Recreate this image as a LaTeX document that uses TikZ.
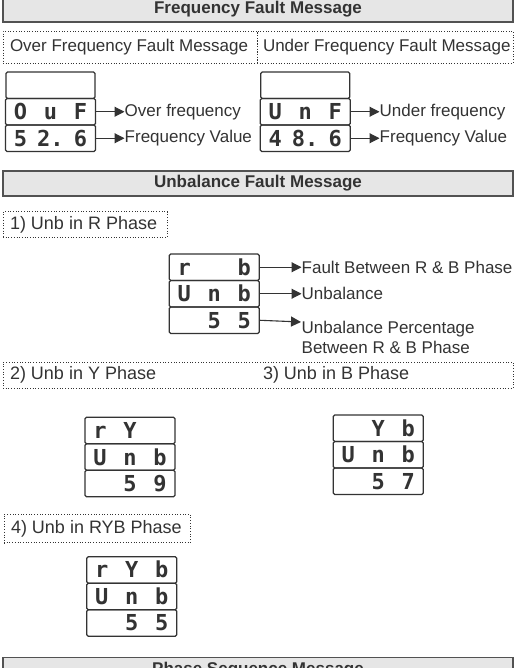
\documentclass[tikz,border=0pt]{standalone}
\usepackage{fontspec}
\setmainfont{Liberation Sans}
\newfontfamily\segfont{DejaVu Sans Mono}
\usetikzlibrary{arrows.meta}
\definecolor{ink}{HTML}{333333}
\definecolor{hdrfill}{HTML}{E6E6E6}
\newcommand\dg[3]{\makebox[30pt]{#1}\makebox[30pt]{#2}\makebox[30pt]{#3}}
\newcommand\lft[2]{\makebox[#1][l]{#2}}
\begin{document}
\begin{tikzpicture}[x=1pt,y=-1pt,
  hdr/.style={draw=ink!85, fill=hdrfill, line width=1.2pt, minimum width=510pt,
    minimum height=25pt, inner sep=0pt, text=ink,
    font=\fontsize{17}{20}\selectfont\bfseries},
  dbox/.style={draw=ink, dotted, line width=0.7pt, inner sep=0pt, outer sep=0pt,
    anchor=north west, text=ink, font=\fontsize{17}{20}\selectfont},
  nbox/.style={dbox, font=\fontsize{18}{21}\selectfont},
  seg/.style={draw=ink, line width=1.2pt, rounded corners=1.5pt, minimum width=89pt,
    minimum height=26.5pt, inner sep=0pt, outer sep=0pt, text=ink,
    font=\segfont\bfseries\fontsize{22}{22}\selectfont, text height=16pt, text depth=0pt},
  arr/.style={draw=ink, line width=1.1pt, -{Triangle[length=10pt,width=10pt]}},
  lbl/.style={text=ink, font=\fontsize{17}{20.5}\selectfont, inner sep=0pt, anchor=west}]
\useasboundingbox (0,0) rectangle (517,668);
\clip (0,0) rectangle (517,668);

% ---------- Frequency fault ----------
\node[hdr, minimum height=26pt] (h1) at (258,9) {Frequency Fault Message};
\node[dbox, minimum width=254pt, minimum height=32pt] (ofb) at (3,31)
  {\lft{240pt}{Over Frequency Fault Message}};
\node[dbox, minimum width=256pt, minimum height=32pt] (ufb) at (257,31)
  {\lft{244pt}{Under Frequency Fault Message}};

% over frequency display
\node[seg, anchor=north west] (o1) at (6,72) {};
\node[seg, anchor=north] (o2) at (o1.south) {\dg{O}{u}{F}};
\node[seg, anchor=north] (o3) at (o2.south) {\dg{5}{2.}{6}};
\node[lbl] (ol2) at (124.5,0 |- o2.east) {Over frequency};
\node[lbl] (ol3) at (124.5,0 |- o3.east) {Frequency Value};
\draw[arr] (o2.east) -- (ol2.west);
\draw[arr] (o3.east) -- (ol3.west);

% under frequency display
\node[seg, anchor=north west] (u1) at (260.7,72) {};
\node[seg, anchor=north] (u2) at (u1.south) {\dg{U}{n}{F}};
\node[seg, anchor=north] (u3) at (u2.south) {\dg{4}{8.}{6}};
\node[lbl] (ul2) at (379.5,0 |- u2.east) {Under frequency};
\node[lbl] (ul3) at (379.5,0 |- u3.east) {Frequency Value};
\draw[arr] (u2.east) -- (ul2.west);
\draw[arr] (u3.east) -- (ul3.west);

% ---------- Unbalance fault ----------
\node[hdr] (h2) at (258,183.5) {Unbalance Fault Message};
\node[nbox, minimum width=164pt, minimum height=25.6pt] (n1) at (3,211.7)
  {\lft{150pt}{1) Unb in R Phase}};

\node[seg, anchor=north west] (r1) at (169.3,254) {\dg{r}{}{b}};
\node[seg, anchor=north] (r2) at (r1.south) {\dg{U}{n}{b}};
\node[seg, anchor=north] (r3) at (r2.south) {\dg{}{5}{5}};
\node[lbl] (rl1) at (301.5,0 |- r1.east) {Fault Between R \& B Phase};
\node[lbl] (rl2) at (301.5,0 |- r2.east) {Unbalance};
\coordinate (t3) at (301,322);
\node[lbl, anchor=north west, align=left] (rl3) at (301.5,320.6)
  {Unbalance Percentage\\Between R \& B Phase};
\draw[arr] (r1.east) -- (rl1.west);
\draw[arr] (r2.east) -- (rl2.west);
\draw[arr] (r3.east) -- (t3);

\node[nbox, minimum width=510pt, minimum height=26pt] (n23) at (3,362)
  {\lft{496pt}{\lft{253pt}{2) Unb in Y Phase}3) Unb in B Phase}};

\node[seg, anchor=north west] (y1) at (85,417.3) {\dg{r}{Y}{}};
\node[seg, anchor=north] (y2) at (y1.south) {\dg{U}{n}{b}};
\node[seg, anchor=north] (y3) at (y2.south) {\dg{}{5}{9}};

\node[seg, anchor=north west] (b1) at (333.3,415) {\dg{}{Y}{b}};
\node[seg, anchor=north] (b2) at (b1.south) {\dg{U}{n}{b}};
\node[seg, anchor=north] (b3) at (b2.south) {\dg{}{5}{7}};

\node[nbox, minimum width=186pt, minimum height=28.7pt] (n4) at (4,514)
  {\lft{172pt}{4) Unb in RYB Phase}};

\node[seg, anchor=north west] (a1) at (86.7,556.7) {\dg{r}{Y}{b}};
\node[seg, anchor=north] (a2) at (a1.south) {\dg{U}{n}{b}};
\node[seg, anchor=north] (a3) at (a2.south) {\dg{}{5}{5}};

% ---------- Phase sequence ----------
\node[hdr] (h3) at (258,670) {Phase Sequence Message};
\end{tikzpicture}
\end{document}
